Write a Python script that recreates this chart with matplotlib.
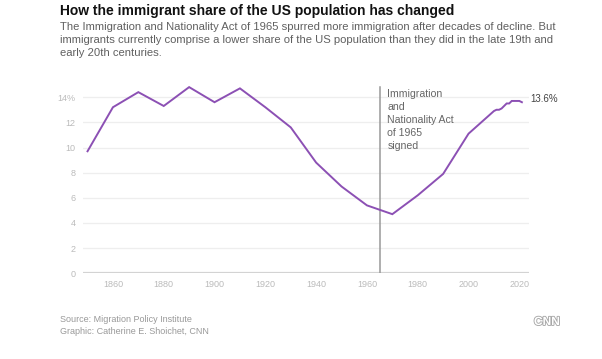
import matplotlib
matplotlib.use("Agg")
import matplotlib.pyplot as plt
import matplotlib.patheffects as pe

# immigrant share of US population (%)
years = [1850, 1860, 1870, 1880, 1890, 1900, 1910, 1920, 1930, 1940, 1950, 1960,
         1970, 1980, 1990, 2000, 2010, 2011, 2012, 2013, 2014, 2015, 2016,
         2017, 2018, 2019, 2020, 2021]
share = [9.7, 13.2, 14.4, 13.3, 14.8, 13.6, 14.7, 13.2, 11.6, 8.8, 6.9, 5.4,
         4.7, 6.2, 7.9, 11.1, 12.9, 13.0, 13.0, 13.1, 13.3, 13.5, 13.5,
         13.7, 13.7, 13.7, 13.7, 13.6]
yticks = [0, 2, 4, 6, 8, 10, 12, 14]
ytick_labels = ["0", "2", "4", "6", "8", "10", "12", "14%"]
xticks = [1860, 1880, 1900, 1920, 1940, 1960, 1980, 2000, 2020]
act_year = 1965
end_label = "13.6%"

W, H = 602, 359
PURPLE = "#8c50b4"
plt.rcParams["font.family"] = ["Liberation Sans", "DejaVu Sans"]

fig = plt.figure(figsize=(W / 100, H / 100), dpi=100)
renderer = fig.canvas.get_renderer()


def px_text(x, y, s, target_w=None, size=8, **kw):
    """Place text at pixel coords (top-left origin); optionally fit its width."""
    t = fig.text(x / W, 1 - y / H, s, fontsize=size, va="center", ha="left", **kw)
    if target_w:
        w = t.get_window_extent(renderer).width
        t.set_fontsize(size * target_w / w)
    return t


px_text(60, 11, "How the immigrant share of the US population has changed",
        target_w=396, size=10, weight="bold", color="#111111")
sub = px_text(60, 27, "The Immigration and Nationality Act of 1965 spurred more immigration after decades of decline. But",
              target_w=498, size=8, color="#606060")
px_text(60, 40, "immigrants currently comprise a lower share of the US population than they did in the late 19th and",
        size=sub.get_fontsize(), color="#606060")
px_text(60, 53, "early 20th centuries.", size=sub.get_fontsize(), color="#606060")

src = px_text(60, 319, "Source: Migration Policy Institute", target_w=130, size=7, color="#999999")
px_text(60, 331, "Graphic: Catherine E. Shoichet, CNN", size=src.get_fontsize(), color="#999999")
px_text(534, 322, "CNN", target_w=26, size=9, weight="bold", color="white",
        path_effects=[pe.withStroke(linewidth=1.3, foreground="#a8a8a8")])

# axes: x from 82.7 to 529 px, y=0 at 273.3 px, 12.58 px per unit
left, right = 82.7, 529
y0 = 273.3
ymax = 15
top = y0 - ymax * 12.58
ax = fig.add_axes([left / W, 1 - y0 / H, (right - left) / W, (y0 - top) / H])
ax.set_xlim(1848.1, 2023.8)
ax.set_ylim(0, ymax)

for s in ax.spines.values():
    s.set_visible(False)
for v in yticks[1:]:
    ax.axhline(v, color="#eeeeee", lw=0.9, zorder=0)
ax.axhline(0, color="#d3d3d3", lw=1.6, zorder=1)

ax.plot(years, share, color=PURPLE, lw=1.4, zorder=3, solid_joinstyle="miter")
ax.plot([act_year, act_year], [0, 14.8], color="#999999", lw=1.1, zorder=2)

ax.set_yticks(yticks)
ax.set_yticklabels(ytick_labels)
ax.set_xticks(xticks)
ax.set_xticklabels([str(x) for x in xticks])
ax.tick_params(length=0, labelsize=6.5, labelcolor="#bbbbbb")
ax.tick_params(axis="y", pad=5)
ax.tick_params(axis="x", pad=5)

ax.annotate("Immigration\nand\nNationality Act\nof 1965\nsigned",
            (act_year, 14.65), xytext=(5.5, 0), textcoords="offset points",
            fontsize=7.6, color="#666666", va="top", ha="left", linespacing=1.38)
ax.annotate(end_label, (years[-1], share[-1]), xytext=(6, 2), textcoords="offset points",
            fontsize=7, color="#444444", va="center", ha="left", annotation_clip=False)

fig.savefig("out.png", dpi=100, facecolor="white")
